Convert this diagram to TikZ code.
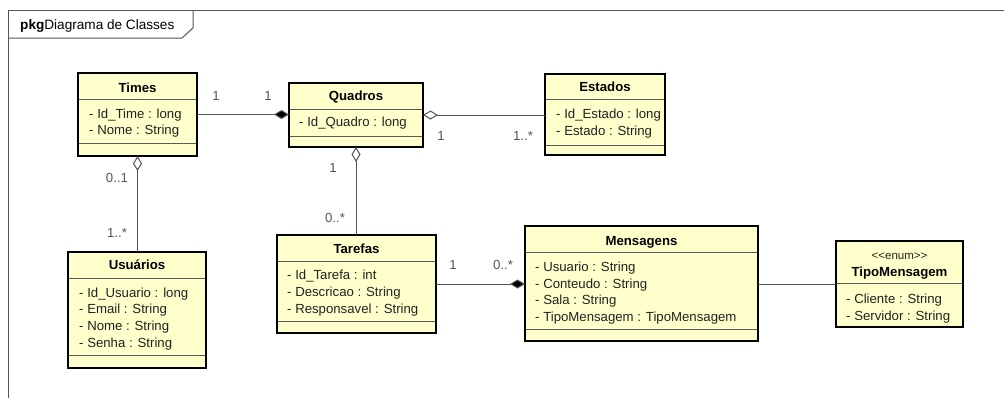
\documentclass[tikz,border=0pt]{standalone}
\usepackage{fontspec}
\setmainfont{Liberation Sans}
\newfontfamily\stereofont{Liberation Sans}
\usetikzlibrary{arrows.meta}
\definecolor{classfill}{HTML}{FFFFCC}
\definecolor{linegray}{HTML}{555555}
\definecolor{sepgray}{HTML}{5A5A5A}
\definecolor{txt}{HTML}{222222}
\begin{document}
\begin{tikzpicture}[x=1pt,y=-1pt,
  classbox/.style={draw=black, line width=2pt, fill=classfill, inner sep=0pt, outer sep=0pt, anchor=north west},
  basefont/.style={font=\fontsize{13.2}{15}\selectfont},
  ctitle/.style={font=\fontsize{13.2}{15}\selectfont\bfseries, inner sep=0pt, text height=9.5pt, text depth=0pt},
  attr/.style={basefont, text=txt, anchor=west, inner sep=0pt, text height=9.5pt, text depth=0pt},
  mult/.style={basefont, text=linegray, inner sep=0pt, text height=9.5pt, text depth=0pt},
  sepline/.style={draw=sepgray, line width=1pt},
  conn/.style={draw=linegray, line width=1pt},
  comp/.style={-{Diamond[length=15pt,width=9pt,fill=black]}},
  agg/.style={-{Diamond[open,length=15pt,width=9pt,fill=white]}}]
\useasboundingbox (0,0) rectangle (1004,397);
\fill[white] (0,0) rectangle (1004,397);

% frame
\draw[conn] (8,400) -- (8,10) -- (1010,10);
\draw[conn] (8,38) -- (182,38) -- (193,28) -- (193,10);
\node[attr, text=black, font=\fontsize{13.6}{15}\selectfont] (pkg) at (20,25) {\textbf{pkg}Diagrama de Classes};

% Times
\node[classbox, minimum width=119pt, minimum height=83pt] (times) at (78,73) {};
\draw[sepline] (79,99) -- (196,99);
\draw[sepline] (79,143) -- (196,143);
\node[ctitle] (timesT) at (137.5,88) {Times};
\node[attr] (timesA1) at (89,114) {- Id\_Time : long};
\node[attr] (timesA2) at (89,130) {- Nome : String};

% Quadros
\node[classbox, minimum width=134pt, minimum height=64pt] (quadros) at (289,83) {};
\draw[sepline] (290,109) -- (422,109);
\draw[sepline] (290,136) -- (422,136);
\node[ctitle] (quadrosT) at (356,96) {Quadros};
\node[attr] (quadrosA1) at (299,122) {- Id\_Quadro : long};

% Estados
\node[classbox, minimum width=120pt, minimum height=81pt] (estados) at (545,74) {};
\draw[sepline] (546,99) -- (664,99);
\draw[sepline] (546,145) -- (664,145);
\node[ctitle] (estadosT) at (605,87) {Estados};
\node[attr] (estadosA1) at (556,114) {- Id\_Estado : long};
\node[attr] (estadosA2) at (556,131) {- Estado : String};

% Usuarios
\node[classbox, minimum width=138pt, minimum height=116pt] (usuarios) at (68,252) {};
\draw[sepline] (69,278) -- (205,278);
\draw[sepline] (69,355) -- (205,355);
\node[ctitle] (usuariosT) at (137,265) {Usuários};
\node[attr] (usuariosA1) at (79,293) {- Id\_Usuario : long};
\node[attr] (usuariosA2) at (79,309) {- Email : String};
\node[attr] (usuariosA3) at (79,326) {- Nome : String};
\node[attr] (usuariosA4) at (79,343) {- Senha : String};

% Tarefas
\node[classbox, minimum width=159pt, minimum height=98pt] (tarefas) at (277,235) {};
\draw[sepline] (278,261) -- (435,261);
\draw[sepline] (278,321) -- (435,321);
\node[ctitle] (tarefasT) at (356.5,249) {Tarefas};
\node[attr] (tarefasA1) at (287,275) {- Id\_Tarefa : int};
\node[attr] (tarefasA2) at (287,292) {- Descricao : String};
\node[attr] (tarefasA3) at (287,309) {- Responsavel : String};

% Mensagens
\node[classbox, minimum width=233pt, minimum height=115pt] (mensagens) at (525,226) {};
\draw[sepline] (526,252) -- (757,252);
\draw[sepline] (526,329) -- (757,329);
\node[ctitle] (mensagensT) at (641.5,241) {Mensagens};
\node[attr] (mensagensA1) at (535,267) {- Usuario : String};
\node[attr] (mensagensA2) at (535,284) {- Conteudo : String};
\node[attr] (mensagensA3) at (535,300) {- Sala : String};
\node[attr] (mensagensA4) at (535,317) {- TipoMensagem : TipoMensagem};

% TipoMensagem
\node[classbox, minimum width=127pt, minimum height=86pt] (tipo) at (836,241) {};
\draw[sepline] (837,283) -- (962,283);
\node[mult, text=txt, font=\fontsize{11.5}{13}\stereofont] (tipoS) at (899.5,255) {<<enum>>};
\node[ctitle] (tipoT) at (899.5,272) {TipoMensagem};
\node[attr] (tipoA1) at (846,299) {- Cliente : String};
\node[attr] (tipoA2) at (846,316) {- Servidor : String};

% connectors
\draw[conn, comp] (times.east) -- (times.east -| quadros.west);
\draw[conn, agg] (estados.west |- quadros.east) -- (quadros.east);
\draw[conn, agg] (usuarios.north -| times.south) -- (times.south);
\draw[conn, agg] (tarefas.north -| quadros.south) -- (quadros.south);
\draw[conn, comp] (tarefas.east) -- (tarefas.east -| mensagens.west);
\draw[conn] (tipo.west -| mensagens.east) -- (tipo.west);

% multiplicities
\node[mult] (m1) at (216,96) {1};
\node[mult] (m2) at (268,96) {1};
\node[mult] (m3) at (441,136) {1};
\node[mult] (m4) at (523,136) {1..*};
\node[mult] (m5) at (117,178) {0..1};
\node[mult] (m6) at (117,233) {1..*};
\node[mult] (m7) at (333,168) {1};
\node[mult] (m8) at (335,218) {0..*};
\node[mult] (m9) at (453,265) {1};
\node[mult] (m10) at (503,265) {0..*};
\end{tikzpicture}
\end{document}
